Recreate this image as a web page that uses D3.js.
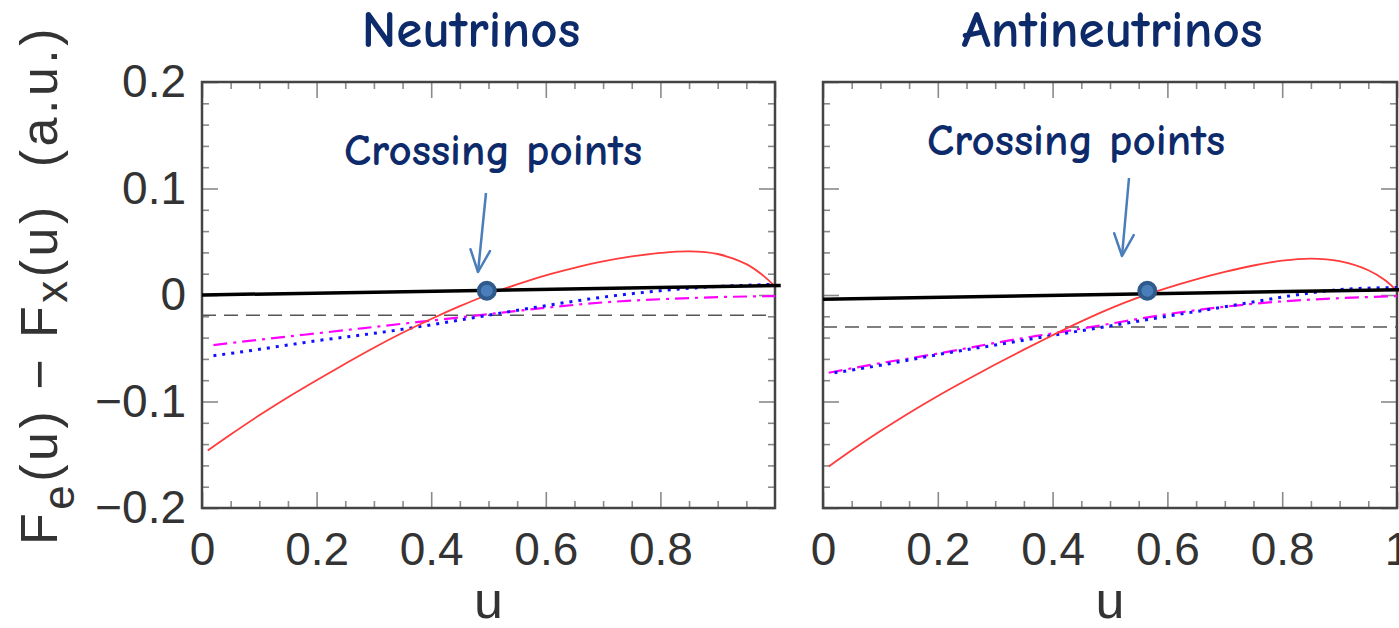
<!DOCTYPE html>
<html>
<head>
<meta charset="utf-8">
<script src="https://cdn.jsdelivr.net/npm/d3@7"></script>
<style>
  body { margin: 0; background: #fff; }
  svg { display: block; }
</style>
</head>
<body>
<div id="chart"></div>
<script>
// tick values
var yTicks = [-0.2, -0.1, 0, 0.1, 0.2];
var xTicksNu = [0, 0.2, 0.4, 0.6, 0.8];
var xTicksAnti = [0, 0.2, 0.4, 0.6, 0.8, 1];

// neutrinos: [u, Fe - Fx]
var nuRed = [[0.01,-0.146],[0.05,-0.131],[0.1,-0.113],[0.15,-0.096],[0.2,-0.08],[0.25,-0.0645],[0.3,-0.0495],
  [0.35,-0.0355],[0.4,-0.0225],[0.45,-0.0105],[0.5,0.0005],[0.55,0.01],[0.6,0.0185],[0.65,0.0255],[0.7,0.0315],
  [0.75,0.0362],[0.8,0.0395],[0.85,0.041],[0.9,0.0385],[0.95,0.029],[0.98,0.018],[1.0,0.008]];
var nuBlue = [[0.02,-0.057],[0.1,-0.051],[0.2,-0.043],[0.3,-0.036],[0.4,-0.028],[0.5,-0.019],[0.6,-0.01],
  [0.7,-0.002],[0.8,0.004],[0.9,0.008],[1.0,0.01]];
var nuMagenta = [[0.02,-0.047],[0.1,-0.042],[0.2,-0.036],[0.3,-0.03],[0.4,-0.024],[0.5,-0.018],[0.6,-0.012],
  [0.7,-0.007],[0.8,-0.004],[0.9,-0.002],[1.0,-0.001]];
var nuBlack = [[0,0],[1.01,0.009]];
var nuDashed = [[0,-0.019],[1,-0.019]];
var nuCross = [0.497, 0.004];

// antineutrinos
var antiRed = [[0.01,-0.161],[0.05,-0.1458],[0.1,-0.1278],[0.15,-0.1108],[0.2,-0.0948],[0.25,-0.0798],[0.3,-0.0653],
  [0.35,-0.0513],[0.4,-0.0378],[0.45,-0.0248],[0.5,-0.0128],[0.55,-0.0023],[0.6,0.0067],[0.65,0.0147],[0.7,0.0217],
  [0.75,0.0277],[0.8,0.0322],[0.85,0.0342],[0.9,0.0317],[0.95,0.0232],[0.98,0.0136],[1.0,0.0036]];
var antiBlue = [[0.02,-0.073],[0.1,-0.066],[0.2,-0.056],[0.3,-0.047],[0.4,-0.038],[0.5,-0.029],[0.6,-0.02],
  [0.7,-0.011],[0.8,-0.002],[0.9,0.005],[1.0,0.007]];
var antiMagenta = [[0.01,-0.073],[0.1,-0.064],[0.2,-0.055],[0.3,-0.045],[0.4,-0.036],[0.5,-0.027],[0.6,-0.018],
  [0.7,-0.011],[0.8,-0.006],[0.9,-0.003],[1.0,-0.001]];
var antiBlack = [[0,-0.004],[1.01,0.005]];
var antiDashed = [[0,-0.03],[1,-0.03]];
var antiCross = [0.565, 0.004];

var width = 1399, height = 628;
var plotTop = 82, plotBottom = 508;

var svg = d3.select("#chart")
  .append("svg")
  .attr("width", width)
  .attr("height", height);

var y = d3.scaleLinear()
  .domain([-0.2, 0.2])
  .range([plotBottom, plotTop]);

var tickFont = "'Liberation Sans', Arial, sans-serif";
var handFont = "'Comic Sans MS', 'Comic Neue', Lato, sans-serif";

function drawPanel(p) {
  var x = d3.scaleLinear().domain([0, 1]).range([p.left, p.right]);
  var g = svg.append("g");

  var yMinor = d3.range(-0.2, 0.2001, 0.02).filter(v => Math.abs(Math.round(v * 10) - v * 10) > 1e-6);
  var xMinor = d3.range(0, 1.0001, 0.05).filter(v => Math.abs(Math.round(v * 5) - v * 5) > 1e-6);

  function ticks(axis, tr) {
    var a = g.append("g").attr("transform", tr).call(axis);
    a.select(".domain").remove();
    a.selectAll(".tick line").attr("stroke", "#8a8a8a").attr("stroke-width", 1.6);
    return a;
  }

  // major + minor ticks on all four sides, pointing inward
  var left = ticks(d3.axisLeft(y).tickValues(yTicks).tickSize(-16).tickPadding(16)
    .tickFormat(d => d === 0 ? "0" : d3.format(".1f")(d)), "translate(" + p.left + ",0)");
  ticks(d3.axisLeft(y).tickValues(yMinor).tickSize(-7).tickFormat(""), "translate(" + p.left + ",0)");
  ticks(d3.axisRight(y).tickValues(yTicks).tickSize(-16).tickFormat(""), "translate(" + p.right + ",0)");
  ticks(d3.axisRight(y).tickValues(yMinor).tickSize(-7).tickFormat(""), "translate(" + p.right + ",0)");

  ticks(d3.axisBottom(x).tickValues(p.xTicks).tickSize(-16).tickPadding(24)
    .tickFormat(d => d === 0 ? "0" : d === 1 ? "1" : d3.format(".1f")(d)), "translate(0," + plotBottom + ")");
  ticks(d3.axisBottom(x).tickValues(xMinor).tickSize(-7).tickFormat(""), "translate(0," + plotBottom + ")");
  ticks(d3.axisTop(x).tickValues(xTicksAnti).tickSize(-16).tickFormat(""), "translate(0," + plotTop + ")");
  ticks(d3.axisTop(x).tickValues(xMinor).tickSize(-7).tickFormat(""), "translate(0," + plotTop + ")");

  g.selectAll(".tick text")
    .attr("font-family", tickFont)
    .attr("font-size", 46)
    .attr("fill", "#333");
  if (!p.yLabels) left.selectAll("text").remove();

  // frame
  g.append("rect")
    .attr("x", p.left).attr("y", plotTop)
    .attr("width", p.right - p.left).attr("height", plotBottom - plotTop)
    .attr("fill", "none").attr("stroke", "#444").attr("stroke-width", 2.5);

  var line = d3.line().x(d => x(d[0])).y(d => y(d[1])).curve(d3.curveNatural);
  var smooth = d3.line().x(d => x(d[0])).y(d => y(d[1])).curve(d3.curveCatmullRom.alpha(0.5));

  g.append("path").datum(p.dashed).attr("d", line)
    .attr("fill", "none").attr("stroke", "#555").attr("stroke-width", 1.6)
    .attr("stroke-dasharray", "14,8");
  g.append("path").datum(p.magenta).attr("d", line)
    .attr("fill", "none").attr("stroke", "#ff00ff").attr("stroke-width", 2.2)
    .attr("stroke-dasharray", "14,6,3,6");
  g.append("path").datum(p.blue).attr("d", line)
    .attr("fill", "none").attr("stroke", "#1010ff").attr("stroke-width", 3)
    .attr("stroke-dasharray", "3,6");
  g.append("path").datum(p.red).attr("d", smooth)
    .attr("fill", "none").attr("stroke", "#ff3b3b").attr("stroke-width", 1.8);
  g.append("path").datum(p.black).attr("d", line)
    .attr("fill", "none").attr("stroke", "#000").attr("stroke-width", 3.5);

  // crossing point
  g.append("circle")
    .attr("cx", x(p.cross[0])).attr("cy", y(p.cross[1])).attr("r", 8)
    .attr("fill", "#4a7ebb").attr("stroke", "#2f5a8c").attr("stroke-width", 4);

  // x label
  g.append("text")
    .attr("x", (p.left + p.right) / 2).attr("y", 618)
    .attr("text-anchor", "middle")
    .attr("font-family", tickFont).attr("font-size", 52).attr("fill", "#333")
    .text("u");

  // title
  g.append("text")
    .attr("x", p.titleX).attr("y", 47)
    .attr("text-anchor", "middle")
    .attr("font-family", handFont).attr("font-size", 53).attr("font-weight", "bold").attr("fill", "#0d2a6b")
    .text(p.title);

  // annotation + arrow
  g.append("text")
    .attr("x", p.noteX).attr("y", p.noteY)
    .attr("text-anchor", "middle")
    .attr("font-family", handFont).attr("font-size", 45).attr("font-weight", "bold").attr("fill", "#0d2a6b")
    .text("Crossing points");

  var a0 = p.arrow[0], a1 = p.arrow[1];
  g.append("line")
    .attr("x1", a0[0]).attr("y1", a0[1]).attr("x2", a1[0]).attr("y2", a1[1])
    .attr("stroke", "#4a7ebb").attr("stroke-width", 2.5);
  var ang = Math.atan2(a1[1] - a0[1], a1[0] - a0[0]);
  var head = [ang + Math.PI - 0.42, ang + Math.PI + 0.42].map(t => [a1[0] + 24 * Math.cos(t), a1[1] + 24 * Math.sin(t)]);
  g.append("path")
    .attr("d", "M" + head[0] + "L" + a1 + "L" + head[1])
    .attr("fill", "none").attr("stroke", "#4a7ebb").attr("stroke-width", 2.5)
    .attr("stroke-linejoin", "round").attr("stroke-linecap", "round");
}

drawPanel({
  left: 202, right: 775, xTicks: xTicksNu, yLabels: true,
  red: nuRed, blue: nuBlue, magenta: nuMagenta, black: nuBlack, dashed: nuDashed, cross: nuCross,
  title: "Neutrinos", titleX: 471, noteX: 493, noteY: 165, arrow: [[486, 193], [478, 272]]
});
drawPanel({
  left: 823, right: 1397, xTicks: xTicksAnti, yLabels: false,
  red: antiRed, blue: antiBlue, magenta: antiMagenta, black: antiBlack, dashed: antiDashed, cross: antiCross,
  title: "Antineutrinos", titleX: 1112, noteX: 1076, noteY: 155, arrow: [[1129, 178], [1122, 256]]
});

// y axis label
var yl = svg.append("text")
  .attr("transform", "translate(57,285) rotate(-90)")
  .attr("text-anchor", "middle")
  .attr("font-family", tickFont).attr("font-size", 52).attr("fill", "#333")
  .attr("letter-spacing", 3.5);
yl.append("tspan").text("F");
yl.append("tspan").attr("font-size", 44).attr("dy", 17).text("e");
yl.append("tspan").attr("dy", -17).text("(u) \u2212 F");
yl.append("tspan").attr("font-size", 44).attr("dy", 10).text("x");
yl.append("tspan").attr("dy", -10).attr("xml:space", "preserve").text("(u)  (a.u.)");
</script>
</body>
</html>
